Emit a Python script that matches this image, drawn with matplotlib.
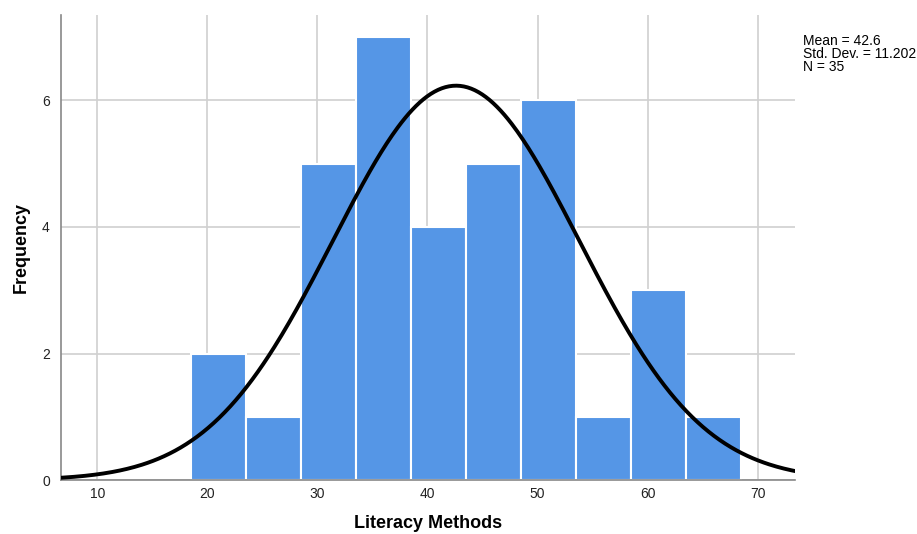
import numpy as np
import matplotlib
matplotlib.use("Agg")
import matplotlib.pyplot as plt

plt.rcParams['font.family'] = ['Liberation Sans', 'DejaVu Sans']

# histogram bins (width 5) and counts
bin_edges = [18.5, 23.5, 28.5, 33.5, 38.5, 43.5, 48.5, 53.5, 58.5, 63.5, 68.5]
counts = [2, 1, 5, 7, 4, 5, 6, 1, 3, 1]
mean = 42.6
std_dev = 11.202
n = 35
x_ticks = [10, 20, 30, 40, 50, 60, 70]
y_ticks = [0, 2, 4, 6]

fig = plt.figure(figsize=(9.17, 5.34), dpi=100)
ax = fig.add_axes([0.0665, 0.101, 0.8005, 0.871])

lefts = bin_edges[:-1]
widths = np.diff(bin_edges)
ax.bar(lefts, counts, width=widths, align='edge', color='#5596e6',
       edgecolor='white', linewidth=1.5, zorder=2)

# normal curve scaled to the histogram
xmin, xmax = 6.7, 73.4
xs = np.linspace(xmin, xmax, 400)
bw = widths[0]
ys = n * bw / (std_dev * np.sqrt(2 * np.pi)) * np.exp(-0.5 * ((xs - mean) / std_dev) ** 2)
ax.plot(xs, ys, color='black', linewidth=2.8, zorder=3)

ax.set_xlim(xmin, xmax)
ax.set_ylim(0, 7.35)
ax.set_xticks(x_ticks)
ax.set_yticks(y_ticks)
ax.grid(True, color='#d0d0d0', linewidth=1.2, zorder=0)
ax.set_axisbelow(True)
ax.tick_params(axis='x', length=0, labelsize=10, pad=5, colors='#222222')
ax.tick_params(axis='y', length=0, labelsize=10, pad=8, colors='#222222')

for side in ['top', 'right']:
    ax.spines[side].set_visible(False)
for side in ['left', 'bottom']:
    ax.spines[side].set_color('#888888')
    ax.spines[side].set_linewidth(1.2)

ax.set_xlabel('Literacy Methods', fontsize=13, fontweight='bold', labelpad=10)
ax.set_ylabel('Frequency', fontsize=13, fontweight='bold', labelpad=9)

fig.text(803 / 917, 1 - 34 / 534,
         f'Mean = {mean}\nStd. Dev. = {std_dev}\nN = {n}',
         fontsize=10, va='top', ha='left', linespacing=0.92)

fig.savefig('out.png', dpi=100)
